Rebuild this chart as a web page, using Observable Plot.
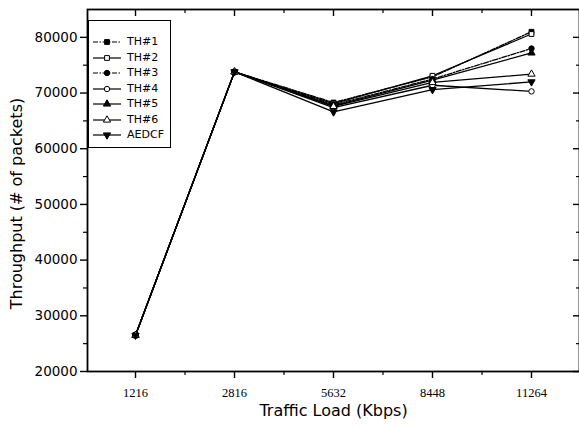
<!DOCTYPE html>
<html>
<head>
<meta charset="utf-8">
<script src="https://cdn.jsdelivr.net/npm/d3@7"></script>
<script src="https://cdn.jsdelivr.net/npm/@observablehq/plot@0.6"></script>
<style>
  html, body { margin: 0; padding: 0; background: #fff; }
  #wrap { position: relative; width: 579px; height: 427px; overflow: hidden; }
  #legend { position: absolute; left: 88px; top: 20px; width: 83px; height: 128px;
            border: 1px solid #000; background: #fff; box-sizing: border-box;
            font-family: "DejaVu Sans", sans-serif; font-size: 11px; color: #000; }
  .row { position: absolute; left: 0; height: 14px; display: flex; align-items: center; }
  .row svg { display: block; }
  .row span { margin-left: 4px; line-height: 14px; }
</style>
</head>
<body>
<div id="wrap"><div id="chart"></div><div id="legend"></div></div>
<script>
// ---- data ----
const loads = ["1216", "2816", "5632", "8448", "11264"];
const seriesNames = ["TH#1", "TH#2", "TH#3", "TH#4", "TH#5", "TH#6", "AEDCF"];
const th1   = [26500, 73800, 68300, 72900, 81000];
const th2   = [26500, 73800, 68100, 73100, 80600];
const th3   = [26500, 73800, 67900, 72500, 78000];
const th4   = [26500, 73800, 67400, 71400, 70300];
const th5   = [26500, 73800, 67700, 72300, 77200];
const th6   = [26500, 73800, 67600, 71900, 73400];
const aedcf = [26500, 73800, 66600, 70600, 72000];
const yMajorTicks = [20000, 30000, 40000, 50000, 60000, 70000, 80000];
const yMinorTicks = [25000, 35000, 45000, 55000, 65000, 75000];
const xLabel = "Traffic Load (Kbps)";
const yLabel = "Throughput (# of packets)";

// ---- symbols ----
const sqrt3 = Math.sqrt(3);
const triDown = {
  draw(ctx, size) {
    const y = -Math.sqrt(size / (sqrt3 * 3));
    ctx.moveTo(0, -y * 2);
    ctx.lineTo(-sqrt3 * y, y);
    ctx.lineTo(sqrt3 * y, y);
    ctx.closePath();
  }
};
const styles = {
  "TH#1":  {values: th1,   symbol: d3.symbolSquare,   filled: true,  dash: "5,1.5,1.5,1.5"},
  "TH#2":  {values: th2,   symbol: d3.symbolSquare,   filled: false, dash: null},
  "TH#3":  {values: th3,   symbol: d3.symbolCircle,   filled: true,  dash: "5,1.5,1.5,1.5"},
  "TH#4":  {values: th4,   symbol: d3.symbolCircle,   filled: false, dash: null},
  "TH#5":  {values: th5,   symbol: d3.symbolTriangle, filled: true,  dash: null},
  "TH#6":  {values: th6,   symbol: d3.symbolTriangle, filled: false, dash: null},
  "AEDCF": {values: aedcf, symbol: triDown,           filled: true,  dash: null}
};
const R = 2.7;

const rows = seriesNames.flatMap(name =>
  loads.map((load, i) => ({i, load, series: name, value: styles[name].values[i]})));

const majorX = loads.map((d, i) => i);
const minorX = loads.slice(1).map((d, i) => i + 0.5);

const marks = [];
// axes
marks.push(Plot.axisY({ticks: yMajorTicks, tickSize: 7, tickPadding: 3, fontSize: 13.5,
  tickFormat: d3.format("d"), strokeWidth: 1.4, label: null}));
marks.push(Plot.axisY({ticks: yMinorTicks, tickSize: 4, tickFormat: () => "", strokeWidth: 1.2, label: null}));
marks.push(Plot.axisY({anchor: "right", ticks: yMajorTicks, tickSize: 6, dx: -7, tickFormat: () => "", stroke: "black", strokeWidth: 1.4, label: null}));
marks.push(Plot.axisY({anchor: "right", ticks: yMinorTicks, tickSize: 3, dx: -4, tickFormat: () => "", stroke: "black", strokeWidth: 1.2, label: null}));
marks.push(Plot.axisX({ticks: majorX, tickSize: 7, tickPadding: 10, tickFormat: i => loads[i],
  fontFamily: "'Liberation Serif', 'Times New Roman', serif", fontSize: 12.5,
  strokeWidth: 1.4, label: null}));
marks.push(Plot.axisX({ticks: minorX, tickSize: 4, tickFormat: () => "", strokeWidth: 1.2, label: null}));
marks.push(Plot.axisX({anchor: "top", ticks: majorX, tickSize: 6, dy: 6, tickFormat: () => "", strokeWidth: 1.4, label: null}));
marks.push(Plot.axisX({anchor: "top", ticks: minorX, tickSize: 3, dy: 3, tickFormat: () => "", strokeWidth: 1.2, label: null}));
marks.push(Plot.frame({stroke: "black", strokeWidth: 1.8}));
// axis titles
marks.push(Plot.text([xLabel], {frameAnchor: "bottom", dy: 44, fontSize: 16, fill: "black"}));
marks.push(Plot.text([yLabel], {frameAnchor: "left", textAnchor: "middle", dx: -71, dy: 13, rotate: -90, fontSize: 16, fill: "black"}));
// lines + markers
for (const name of seriesNames) {
  const s = styles[name];
  const data = rows.filter(d => d.series === name);
  marks.push(Plot.line(data, {x: "i", y: "value", stroke: "black", strokeWidth: 1.3,
    strokeDasharray: s.dash || undefined}));
}
for (const name of seriesNames) {
  const s = styles[name];
  const data = rows.filter(d => d.series === name);
  marks.push(Plot.dot(data, {x: "i", y: "value", symbol: s.symbol, r: R,
    stroke: "black", strokeWidth: 1, fill: s.filled ? "black" : "white"}));
}

const chart = Plot.plot({
  width: 579,
  height: 427,
  marginLeft: 87,
  marginRight: 0,
  marginTop: 9,
  marginBottom: 56,
  style: {fontFamily: "'DejaVu Sans', sans-serif", color: "black", background: "white"},
  x: {type: "linear", domain: [-0.485, 4.485], axis: null},
  y: {type: "linear", domain: [20000, 85000], axis: null},
  marks
});
document.getElementById("chart").appendChild(chart);

// ---- legend ----
const legend = d3.select("#legend");
seriesNames.forEach((name, k) => {
  const s = styles[name];
  const row = legend.append("div").attr("class", "row").style("top", (14 + 15.5 * k) + "px");
  const svg = row.append("svg").attr("width", 34).attr("height", 14);
  svg.append("line").attr("x1", 4).attr("x2", 32).attr("y1", 7).attr("y2", 7)
    .attr("stroke", "black").attr("stroke-width", 1.2)
    .attr("stroke-dasharray", s.dash || null);
  svg.append("path").attr("transform", "translate(18,7)")
    .attr("d", d3.symbol(s.symbol, Math.PI * R * R)())
    .attr("fill", s.filled ? "black" : "white").attr("stroke", "black").attr("stroke-width", 1);
  row.append("span").text(name);
});
</script>
</body>
</html>
